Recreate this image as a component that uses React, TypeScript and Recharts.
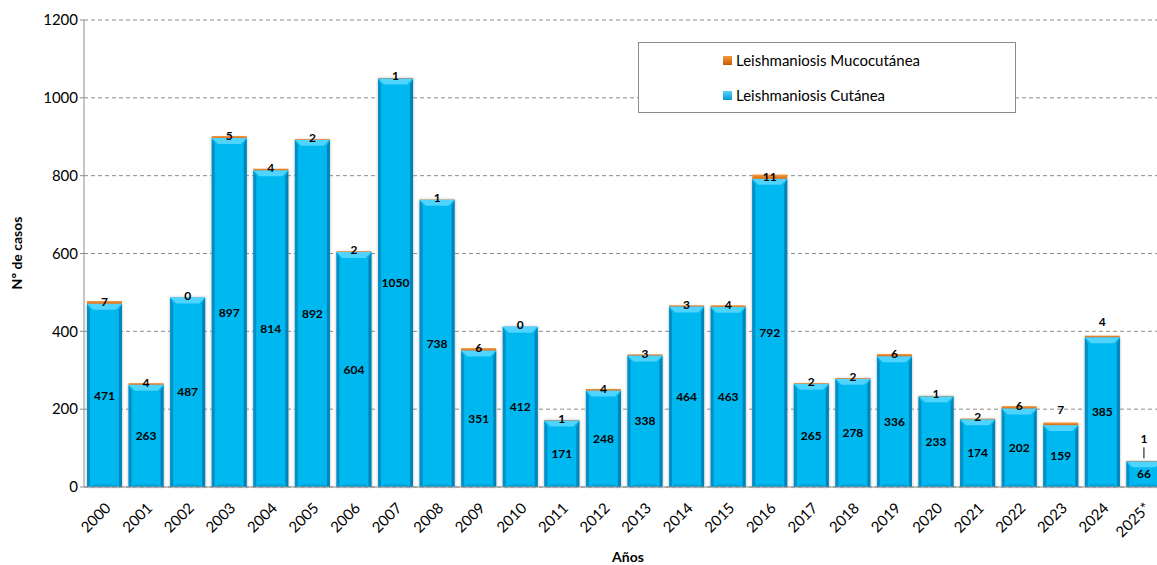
import React from "react"
import { BarChart, Bar, XAxis, YAxis, CartesianGrid, LabelList } from "recharts"

const years = [
  "2000", "2001", "2002", "2003", "2004", "2005", "2006", "2007", "2008", "2009",
  "2010", "2011", "2012", "2013", "2014", "2015", "2016", "2017", "2018", "2019",
  "2020", "2021", "2022", "2023", "2024", "2025*",
]
const cutanea = [
  471, 263, 487, 897, 814, 892, 604, 1050, 738, 351, 412, 171, 248, 338, 464, 463,
  792, 265, 278, 336, 233, 174, 202, 159, 385, 66,
]
const mucocutanea = [7, 4, 0, 5, 4, 2, 2, 1, 1, 6, 0, 1, 4, 3, 3, 4, 11, 2, 2, 6, 1, 2, 6, 7, 4, 1]
const yTicks = [0, 200, 400, 600, 800, 1000, 1200]

const data = years.map((year, i) => ({
  year,
  cutanea: cutanea[i],
  mucocutanea: mucocutanea[i],
}))

const FONT = "Lato, 'Open Sans', sans-serif"
// in the source some muco labels sit higher above the bar
const raised = new Set(["2023", "2024"])

const YearTick = (props: any) => {
  const { x, y, payload } = props
  return (
    <text
      x={x + 7}
      y={y + 14}
      textAnchor="end"
      transform={`rotate(-45 ${x + 7} ${y + 14})`}
      fontSize={15}
      fontFamily={FONT}
      fill="#000"
    >
      {payload.value}
    </text>
  )
}

const BevelBar = (props: any) => {
  const { x, y, width, height } = props
  if (!height || height <= 0) return null
  const b = Math.min(6, height / 2)
  return (
    <g filter="url(#barShadow)">
      <rect x={x} y={y} width={width} height={height} fill="#00b8f0" />
      <polygon points={`${x},${y} ${x + 3},${y + b} ${x + 3},${y + height} ${x},${y + height}`} fill="#0090c6" />
      <polygon
        points={`${x + width},${y} ${x + width - 3},${y + b} ${x + width - 3},${y + height} ${x + width},${y + height}`}
        fill="#0084b8"
      />
      <polygon
        points={`${x},${y} ${x + width},${y} ${x + width - 6},${y + b} ${x + 6},${y + b}`}
        fill="#4fd3ff"
      />
      <polygon
        points={`${x + 3},${y + height} ${x + width - 3},${y + height} ${x + width - 6},${y + height - 3} ${x + 6},${y + height - 3}`}
        fill="#00a6da"
      />
    </g>
  )
}

const MucoBar = (props: any) => {
  const { x, y, width, height } = props
  if (!height || height <= 0) return null
  return <rect x={x} y={y} width={width} height={height} fill="url(#mucoGrad)" />
}

// muco label is hung off the cutánea bar so that zero values still show
const MucoLabel = (props: any) => {
  const { x, y, width, value, index } = props
  const cx = x + width / 2
  if (index === years.length - 1) {
    return (
      <g>
        <line x1={cx} x2={cx} y1={y - 14} y2={y - 3} stroke="#000" strokeWidth={1} />
        <text x={cx} y={y - 21} textAnchor="middle" dominantBaseline="middle" fontSize={12} fontWeight="bold" fontFamily={FONT}>
          {value}
        </text>
      </g>
    )
  }
  const ty = raised.has(years[index]) ? y - 14 : y - 1
  return (
    <text x={cx} y={ty} textAnchor="middle" dominantBaseline="middle" fontSize={12} fontWeight="bold" fontFamily={FONT}>
      {value}
    </text>
  )
}

const LegendBox = () => (
  <div
    style={{
      position: "absolute",
      left: 638,
      top: 42,
      width: 376,
      height: 69,
      border: "1px solid #8c8c8c",
      background: "#fff",
      fontFamily: FONT,
      fontSize: 15,
    }}
  >
    <div style={{ position: "absolute", left: 84, top: 8, display: "flex", alignItems: "center" }}>
      <span style={{ width: 9, height: 9, background: "linear-gradient(#f59a3c, #c85a00)", marginRight: 4 }} />
      Leishmaniosis Mucocutánea
    </div>
    <div style={{ position: "absolute", left: 84, top: 43, display: "flex", alignItems: "center" }}>
      <span style={{ width: 9, height: 9, background: "linear-gradient(#5ad4ff, #0098d0)", marginRight: 4 }} />
      Leishmaniosis Cutánea
    </div>
  </div>
)

export default function App() {
  return (
    <div style={{ position: "absolute", left: 0, top: 0, width: 1157, height: 565, overflow: "hidden", background: "#fff" }}>
      <BarChart
        width={1165}
        height={565}
        data={data}
        margin={{ top: 20, right: 0, left: 0, bottom: 0 }}
        barSize={35}
      >
        <defs>
          <linearGradient id="mucoGrad" x1="0" y1="0" x2="0" y2="1">
            <stop offset="0%" stopColor="#f7a04a" />
            <stop offset="100%" stopColor="#d86a10" />
          </linearGradient>
          <filter id="barShadow" x="-20%" y="-5%" width="140%" height="110%">
            <feDropShadow dx="0" dy="0" stdDeviation="1.6" floodColor="#7f7f7f" floodOpacity="0.55" />
          </filter>
        </defs>
        <CartesianGrid stroke="#8c8c8c" strokeDasharray="4 3" vertical={false} />
        <XAxis
          dataKey="year"
          interval={0}
          height={78}
          tick={<YearTick />}
          tickLine={false}
          axisLine={{ stroke: "#8c8c8c" }}
          label={{
            content: () => (
              <text x={628} y={562} textAnchor="middle" fontSize={14} fontWeight="bold" fontFamily={FONT}>
                Años
              </text>
            ),
          }}
        />
        <YAxis
          width={84}
          domain={[0, 1200]}
          ticks={yTicks}
          tick={{ fontSize: 15, fill: "#000", fontFamily: FONT }}
          tickLine={{ stroke: "#8c8c8c" }}
          tickSize={4}
          axisLine={{ stroke: "#8c8c8c" }}
          label={{
            content: () => (
              <text
                x={22}
                y={253}
                transform="rotate(-90 22 253)"
                textAnchor="middle"
                fontSize={14}
                fontWeight="bold"
                fontFamily={FONT}
              >
                Nº de casos
              </text>
            ),
          }}
        />
        <Bar
          dataKey="cutanea"
          name="Leishmaniosis Cutánea"
          stackId="a"
          fill="#00b8f0"
          shape={<BevelBar />}
          isAnimationActive={false}
        >
          <LabelList dataKey="cutanea" position="center" fontSize={12} fontWeight="bold" fill="#000" fontFamily={FONT} />
          <LabelList dataKey="mucocutanea" content={<MucoLabel />} />
        </Bar>
        <Bar
          dataKey="mucocutanea"
          name="Leishmaniosis Mucocutánea"
          stackId="a"
          fill="#e46c0a"
          shape={<MucoBar />}
          isAnimationActive={false}
        />
      </BarChart>
      <LegendBox />
    </div>
  )
}
